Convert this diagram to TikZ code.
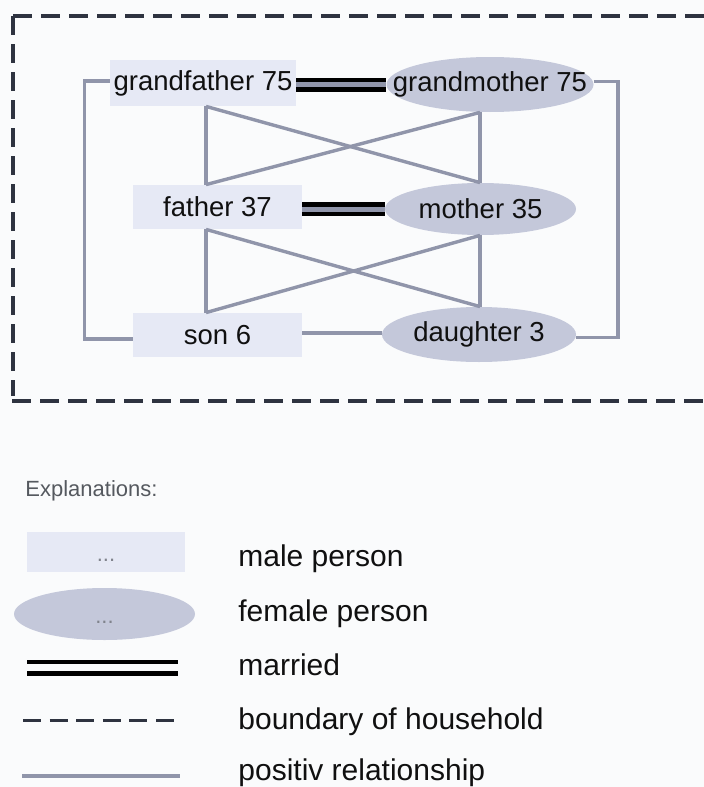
\documentclass[tikz,border=0pt]{standalone}
\usepackage{fontspec}
\setmainfont{Liberation Sans}
\usetikzlibrary{shapes.geometric}
\definecolor{bgc}{HTML}{FAFBFC}
\definecolor{malefill}{HTML}{E6E9F5}
\definecolor{femfill}{HTML}{C4C8DA}
\definecolor{relgray}{HTML}{9095AA}
\definecolor{dashc}{HTML}{2E3340}
\definecolor{txt}{HTML}{101010}
\definecolor{explc}{HTML}{55595F}
\definecolor{dotc}{HTML}{80838C}
\begin{document}
\begin{tikzpicture}[x=0.5pt,y=-0.5pt,
  nodefont/.style={font=\fontsize{13.75}{16}\selectfont, text=txt},
  male/.style={rectangle, fill=malefill, inner sep=0pt, nodefont},
  female/.style={ellipse, fill=femfill, inner sep=0pt, nodefont},
  rel/.style={draw=relgray, line width=1.7pt},
  married/.style={draw=black, line width=2.25pt, double=relgray, double distance=2.5pt},
  legmarried/.style={draw=black, line width=2.4pt, double=bgc, double distance=3.2pt},
  boundary/.style={draw=dashc, line width=1.6pt, dash pattern=on 9.5pt off 4.5pt},
  legtext/.style={anchor=base west, inner sep=0pt, font=\fontsize{15}{18}\selectfont, text=txt},
  dotsnode/.style={font=\fontsize{11}{13}\selectfont, text=dotc, text height=9pt, text depth=0pt},
]
\useasboundingbox (0,0) rectangle (704,787);
\clip (0,0) rectangle (704,787);
\fill[bgc] (0,0) rectangle (704,787);

% household boundary
\draw[boundary] (13,16) -- (730,16);
\draw[boundary] (13,16) -- (13,396);
\draw[boundary] (12,401) -- (730,401);

% persons
\node[male, minimum width=93pt, minimum height=23pt] (gf) at (203,83) {grandfather 75};
\node[female, minimum width=103.5pt, minimum height=27.5pt] (gm) at (490,84.5) {\makebox[0pt]{grandmother 75}};
\node[male, minimum width=84.5pt, minimum height=22pt] (fa) at (217.5,207) {father 37};
\node[female, minimum width=95.5pt, minimum height=26pt] (mo) at (480.5,209) {\makebox[0pt]{mother 35}};
\node[male, minimum width=84.5pt, minimum height=22pt] (so) at (217.5,335) {son 6};
\node[female, minimum width=97pt, minimum height=27.5pt] (da) at (479,334.5) {\makebox[0pt]{daughter 3}};

\coordinate (xL) at (206,0);
\coordinate (xR) at (480,0);

% positive relationships
\draw[rel] (gf.south -| xL) -- (fa.north -| xL);
\draw[rel] (gf.south -| xL) -- (mo.north -| xR);
\draw[rel] (gm.south -| xR) -- (fa.north -| xL);
\draw[rel] (gm.south -| xR) -- (mo.north -| xR);
\draw[rel] (fa.south -| xL) -- (so.north -| xL);
\draw[rel] (fa.south -| xL) -- (da.north -| xR);
\draw[rel] (mo.south -| xR) -- (so.north -| xL);
\draw[rel] (mo.south -| xR) -- (da.north -| xR);
\draw[rel] ([yshift=1pt]gf.west) -- ++(-25,0) |- ([yshift=-2pt]so.west);
\draw[rel] ([yshift=1.5pt]gm.east) -- ++(24,0) |- ([yshift=-1.5pt]da.east);
\draw[rel] ([yshift=1pt]so.east) -- ([yshift=1pt]so.east -| da.west);

% marriages
\draw[married] (gf.east |- gm.west) -- (gm.west);
\draw[married] (fa.east |- mo.west) -- (mo.west);

% legend
\node[anchor=base west, inner sep=0pt, font=\fontsize{11}{13}\selectfont, text=explc] (expl) at (25,496) {Explanations:};
\node[male, dotsnode, minimum width=79pt, minimum height=20pt] (lmale) at (106,552) {...};
\node[female, dotsnode, minimum width=90.5pt, minimum height=26pt] (lfem) at (104.5,614) {\makebox[0pt]{...}};
\coordinate (lma) at (27,667.5);
\coordinate (lmb) at (178,667.5);
\draw[legmarried] (lma) -- (lmb);
\coordinate (lba) at (23,720);
\coordinate (lbb) at (176,720);
\draw[draw=dashc, line width=1.5pt, dash pattern=on 9pt off 4.3pt] (lba) -- (lbb);
\coordinate (lra) at (22,776);
\coordinate (lrb) at (180,776);
\draw[rel] (lra) -- (lrb);

\node[legtext] (tmale) at (238,566) {male person};
\node[legtext] (tfem) at (238,621) {female person};
\node[legtext] (tmar) at (238,675) {married};
\node[legtext] (tbound) at (238,729) {boundary of household};
\node[legtext] (trel) at (238,780) {positiv relationship};
\end{tikzpicture}
\end{document}
